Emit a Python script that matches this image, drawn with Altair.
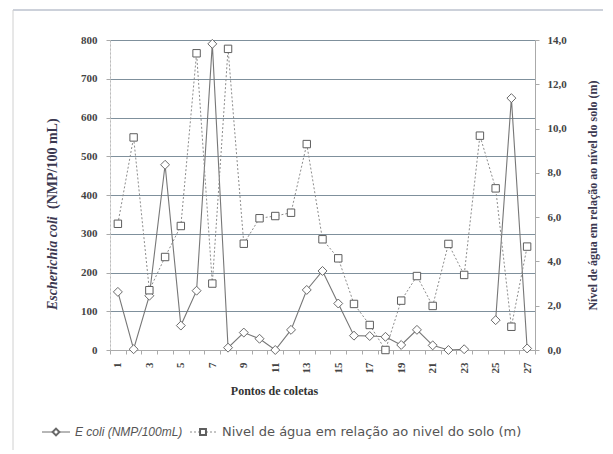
import altair as alt
import pandas as pd

# --- data ---
points = list(range(1, 28))
ecoli = [150, 2, 140, 478, 63, 153, 790, 6, 45, 29, 0, 52, 155, 204, 120, 37, 36, 34,
         13, 52, 12, 0, 2, None, 77, 650, 4]
water = [5.7, 9.6, 2.7, 4.2, 5.6, 13.4, 3.0, 13.6, 4.8, 5.95, 6.05, 6.2, 9.3, 5.0, 4.14,
         2.08, 1.13, 0.0, 2.23, 3.34, 1.99, 4.79, 3.39, 9.68, 7.3, 1.05, 4.67]
left_ticks = [0, 100, 200, 300, 400, 500, 600, 700, 800]
right_ticks = [0, 2, 4, 6, 8, 10, 12, 14]

ecoli_rows = []
seg = 0
for p, v in zip(points, ecoli):
    if v is None:
        seg += 1
        continue
    ecoli_rows.append({"ponto": p, "ecoli": v, "seg": seg})
df_e = pd.DataFrame(ecoli_rows)
df_w = pd.DataFrame({"ponto": points, "water": water})

W, H = 425, 310
SERIF = "Liberation Serif"
LBL = "#444444"
TTL = "#3b3850"

xscale = alt.Scale(type="band", domain=points, paddingInner=0, paddingOuter=0)
xaxis = alt.Axis(
    title="Pontos de coletas", titleFont=SERIF, titleFontSize=12, titleFontWeight="bold",
    titleColor="#333333", titleX=164, titleY=40, titleAlign="center", titleBaseline="middle",
    labelAngle=270, labelFont=SERIF, labelFontSize=11, labelFontWeight="bold", labelColor=LBL,
    labelExpr="datum.value % 2 == 1 ? datum.label : ''", labelPadding=8,
    tickBand="extent", tickSize=4, tickColor="#aaaaaa", domainColor="#aaaaaa", grid=False,
)

x_enc = alt.X("ponto:O", scale=xscale, axis=xaxis)

y_e = alt.Y(
    "ecoli:Q",
    scale=alt.Scale(domain=[0, 800], nice=False),
    axis=alt.Axis(
        title=None, values=left_ticks, labelFont=SERIF, labelFontSize=11,
        labelFontWeight="bold", labelColor=LBL, labelPadding=9, tickSize=4,
        tickColor="#aaaaaa", domainColor="#bbbbbb", domainDash=[2, 2],
        grid=True, gridColor="#7f909c", gridWidth=1,
    ),
)
y_w = alt.Y(
    "water:Q",
    scale=alt.Scale(domain=[0, 14], nice=False),
    axis=alt.Axis(
        orient="right", values=right_ticks,
        labelExpr="replace(format(datum.value, '.1f'), '.', ',')",
        labelFont=SERIF, labelFontSize=11, labelFontWeight="bold", labelColor=LBL,
        labelPadding=8, tickSize=4, tickColor="#aaaaaa", domainColor="#aaaaaa", grid=False,
        title="Nível de água em relação ao nível do solo (m)", titleFont=SERIF,
        titleFontSize=12, titleFontWeight="bold", titleColor=TTL, titleAngle=270,
        titleX=57, titleY=155, titleAlign="center", titleBaseline="middle",
    ),
)

water_line = alt.Chart(df_w).mark_line(color="#8c8c8c", strokeWidth=1, strokeDash=[2, 2]).encode(x=x_enc, y=y_w)
water_pts = alt.Chart(df_w).mark_point(shape="square", size=55, filled=True, fill="white",
                                       stroke="#5e5e5e", strokeWidth=1, opacity=1).encode(x=x_enc, y=y_w)
e_line = alt.Chart(df_e).mark_line(color="#777777", strokeWidth=1.1).encode(x=x_enc, y=y_e, detail="seg:N")
e_pts = alt.Chart(df_e).mark_point(shape="diamond", size=80, filled=True, fill="white",
                                   stroke="#6a6a6a", strokeWidth=1, opacity=1).encode(x=x_enc, y=y_e)

left_layer = alt.layer(e_line, e_pts)
right_layer = alt.layer(water_line, water_pts)

one = pd.DataFrame({"k": [0]})

# left axis title in two styles
t1 = alt.Chart(pd.DataFrame({"t": ["Escherichia coli"]})).mark_text(
    angle=270, align="left", baseline="middle", font=SERIF, fontSize=14, fontWeight="bold",
    fontStyle="italic", color=TTL).encode(x=alt.value(-57), y=alt.value(270), text="t:N")
t2 = alt.Chart(pd.DataFrame({"t": ["(NMP/100 mL)"]})).mark_text(
    angle=270, align="left", baseline="middle", font=SERIF, fontSize=14, fontWeight="bold",
    color=TTL).encode(x=alt.value(-57), y=alt.value(169), text="t:N")

# outer frame lines
frame_top = alt.Chart(one).mark_rule(color="#9aa3b5", strokeWidth=1).encode(
    x=alt.value(-97), x2=alt.value(505), y=alt.value(-30))
frame_left = alt.Chart(one).mark_rule(color="#d0d0d0", strokeWidth=1).encode(
    x=alt.value(-97), y=alt.value(-30), y2=alt.value(410))

# legend
LY = 392
leg1_line = alt.Chart(one).mark_rule(color="#6e6e6e", strokeWidth=1).encode(
    x=alt.value(-68), x2=alt.value(-40), y=alt.value(LY))
leg1_pt = alt.Chart(one).mark_point(shape="diamond", size=45, filled=True, fill="white",
                                    stroke="#6a6a6a", opacity=1).encode(x=alt.value(-54), y=alt.value(LY))
leg1_txt = alt.Chart(pd.DataFrame({"t": ["E coli (NMP/100mL)"]})).mark_text(
    align="left", baseline="middle", font="Liberation Sans", fontSize=12, fontStyle="italic",
    color="#555555").encode(x=alt.value(-35), y=alt.value(LY), text="t:N")
leg2_line = alt.Chart(one).mark_rule(color="#8c8c8c", strokeWidth=1, strokeDash=[2, 2]).encode(
    x=alt.value(80), x2=alt.value(108), y=alt.value(LY))
leg2_pt = alt.Chart(one).mark_point(shape="square", size=35, filled=True, fill="white",
                                    stroke="#5e5e5e", opacity=1).encode(x=alt.value(93), y=alt.value(LY))
leg2_txt = alt.Chart(pd.DataFrame({"t": ["Nivel de água em relação ao nivel do solo (m)"]})).mark_text(
    align="left", baseline="middle", font="DejaVu Sans", fontSize=13,
    color="#555555").encode(x=alt.value(112), y=alt.value(LY), text="t:N")

chart = alt.layer(
    left_layer, right_layer, t1, t2, frame_top, frame_left,
    leg1_line, leg1_pt, leg1_txt, leg2_line, leg2_pt, leg2_txt,
).resolve_scale(y="independent").properties(
    width=W, height=H,
    autosize=alt.AutoSizeParams(type="none"),
    padding={"left": 102, "top": 32, "right": 68, "bottom": 100},
).configure_view(stroke=None).configure(background="white")

chart.save("out.html", embed_options={"renderer": "svg", "actions": False})
